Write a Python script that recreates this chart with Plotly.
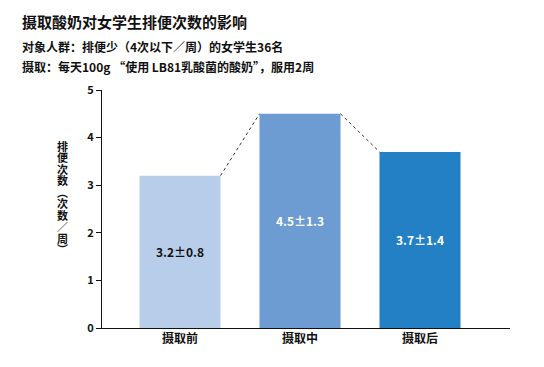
import plotly.graph_objects as go

categories = ["摄取前", "摄取中", "摄取后"]
values = [3.2, 4.5, 3.7]
sds = [0.8, 1.3, 1.4]
colors = ["#b8cde9", "#6c9cd2", "#2380c5"]
text_colors = ["#111111", "#ffffff", "#ffffff"]
yticks = [0, 1, 2, 3, 4, 5]
y_title_chars = list("排便次数︵次数／周︶")

FONT = "Noto Sans CJK SC"
bar_width = 0.675
half = bar_width / 2

fig = go.Figure()
fig.add_trace(go.Bar(
    x=list(range(len(categories))), y=values, width=bar_width,
    marker=dict(color=colors, line=dict(width=0)),
    text=[f"<b>{v}±{s}</b>" for v, s in zip(values, sds)],
    textposition="inside", insidetextanchor="middle",
    textfont=dict(family=FONT, size=12, color=text_colors),
    showlegend=False, hoverinfo="skip",
))
for i in range(len(values) - 1):
    fig.add_trace(go.Scatter(
        x=[i + half, i + 1 - half], y=[values[i], values[i + 1]],
        mode="lines", line=dict(color="#333333", width=1, dash="dot"),
        showlegend=False, hoverinfo="skip",
    ))

PLOT_H = 238
fig.update_layout(
    width=544, height=367,
    margin=dict(l=94, r=42, t=82, b=47),
    plot_bgcolor="white", paper_bgcolor="white",
    font=dict(family=FONT, color="#111111"),
    xaxis=dict(
        range=[-0.65, 2.75], tickvals=list(range(len(categories))),
        ticktext=[f"<b>{c}</b>" for c in categories],
        showline=True, linecolor="#111111", linewidth=1,
        ticks="", showgrid=False, zeroline=False,
        tickfont=dict(family=FONT, size=12, color="#111111"),
    ),
    yaxis=dict(
        range=[0, 5], tickvals=yticks,
        ticktext=[f"<b>{t}</b>" for t in yticks],
        showline=True, linecolor="#111111", linewidth=1,
        ticks="outside", ticklen=5, tickcolor="#111111",
        showgrid=False, zeroline=False,
        tickfont=dict(family=FONT, size=11, color="#111111"),
    ),
    bargap=0.325,
)

# vertical y-axis title: tight line spacing (9px base) with 11px glyphs
fig.add_annotation(
    xref="paper", yref="paper", x=-0.096, y=1 - 107 / PLOT_H,
    xanchor="center", yanchor="middle",
    text="<br>".join(f"<span style='font-size:11px'><b>{ch}</b></span>" for ch in y_title_chars),
    showarrow=False, font=dict(family=FONT, size=8.8, color="#111111"),
)

fig.add_annotation(
    xref="paper", yref="paper", x=-0.2, xanchor="left", y=1.286, yanchor="middle",
    text="<b>摄取酸奶对女学生排便次数的影响</b>", showarrow=False,
    font=dict(family=FONT, size=15, color="#111111"),
)
fig.add_annotation(
    xref="paper", yref="paper", x=-0.2, xanchor="left", y=1.181, yanchor="middle",
    text="<b>对象人群：排便少（4次以下／周）的女学生36名</b>", showarrow=False,
    font=dict(family=FONT, size=12, color="#111111"),
)
fig.add_annotation(
    xref="paper", yref="paper", x=-0.2, xanchor="left", y=1.097, yanchor="middle",
    text="<b>摄取：每天100g “使用 LB81乳酸菌的酸奶”，服用2周</b>", showarrow=False,
    font=dict(family=FONT, size=12, color="#111111"),
)

fig.write_html("out.html")
